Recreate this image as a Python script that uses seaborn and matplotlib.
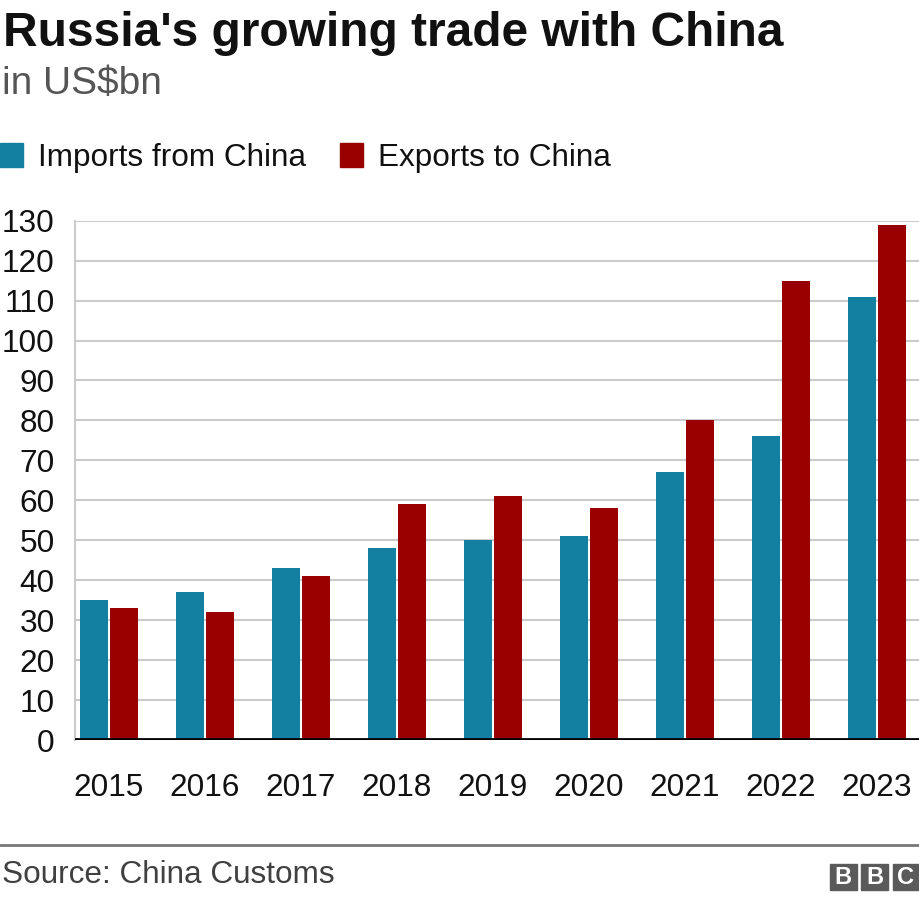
import matplotlib
matplotlib.use("Agg")
import matplotlib.pyplot as plt
import seaborn as sns
import pandas as pd
from matplotlib.patches import Rectangle

years = ["2015", "2016", "2017", "2018", "2019", "2020", "2021", "2022", "2023"]
imports_from_china = [35, 37, 43, 48, 50, 51, 67, 76, 111]
exports_to_china = [33, 32, 41, 59, 61, 58, 80, 115, 129]
series_names = ["Imports from China", "Exports to China"]
series_colors = ["#1380A1", "#990000"]
y_ticks = list(range(0, 131, 10))

df = pd.DataFrame({
    "year": years * 2,
    "value": imports_from_china + exports_to_china,
    "series": [series_names[0]] * len(years) + [series_names[1]] * len(years),
})

sns.set_theme(style="white")
plt.rcParams["font.family"] = ["Liberation Sans", "DejaVu Sans"]

TXT = "#111111"
W, H = 920, 900
fig = plt.figure(figsize=(W / 100, H / 100), dpi=100)
ax_left, ax_right = 75 / W, 1.0
ax_bottom, ax_top = 1 - 740 / H, 1 - 220.7 / H
ax = fig.add_axes([ax_left, ax_bottom, ax_right - ax_left, ax_top - ax_bottom])

sns.barplot(data=df, x="year", y="value", hue="series", order=years,
            hue_order=series_names, palette=series_colors, width=0.625,
            gap=0.05, saturation=1, legend=False, ax=ax, linewidth=0)

ax.set_ylim(0, 130)
ax.set_xlim(-0.354, 8.45)
ax.set_yticks(y_ticks)
ax.set_yticklabels([str(t) for t in y_ticks])
ax.set_xlabel("")
ax.set_ylabel("")
ax.grid(axis="y", color="#cbcbcb", linewidth=1.5)
ax.grid(axis="x", visible=False)
ax.set_axisbelow(True)
for s in ["top", "right", "bottom"]:
    ax.spines[s].set_visible(False)
ax.spines["left"].set_color("#cbcbcb")
ax.spines["left"].set_linewidth(1.5)
ax.axhline(0, color="black", linewidth=2.7, zorder=5)
ax.tick_params(axis="both", length=0, labelsize=22.7, colors=TXT)
ax.tick_params(axis="y", pad=14.5)
ax.tick_params(axis="x", pad=23.5)

def fy(px):
    return 1 - px / H

def fx(px):
    return px / W

fig.text(fx(3), fy(46), "Russia's growing trade with China", fontsize=34.5,
         fontweight="bold", color=TXT, va="baseline", ha="left")
fig.text(fx(2), fy(94), "in US$bn", fontsize=28, color="#555555",
         va="baseline", ha="left")

# legend
for x0, name, col in [(0, series_names[0], series_colors[0]),
                      (340, series_names[1], series_colors[1])]:
    fig.patches.append(Rectangle((fx(x0), fy(167)), 23 / W, 24 / H,
                                 transform=fig.transFigure, color=col))
    fig.text(fx(x0 + 38), fy(166), name, fontsize=22.7, color=TXT,
             va="baseline", ha="left")

# footer
fig.add_artist(plt.Line2D([0, 1], [fy(845), fy(845)], color="#777777",
                          linewidth=2, transform=fig.transFigure))
fig.text(fx(2), fy(883), "Source: China Customs", fontsize=22.7,
         color="#404040", va="baseline", ha="left")
for i, letter in enumerate("BBC"):
    x0 = 830 + i * 31.3
    fig.patches.append(Rectangle((fx(x0), fy(890)), 26.7 / W, 26.3 / H,
                                 transform=fig.transFigure, color="#5a5a5a"))
    fig.text(fx(x0 + 13.3), fy(877), letter, fontsize=17, fontweight="bold",
             color="white", ha="center", va="center")

fig.savefig("out.png", dpi=100)
